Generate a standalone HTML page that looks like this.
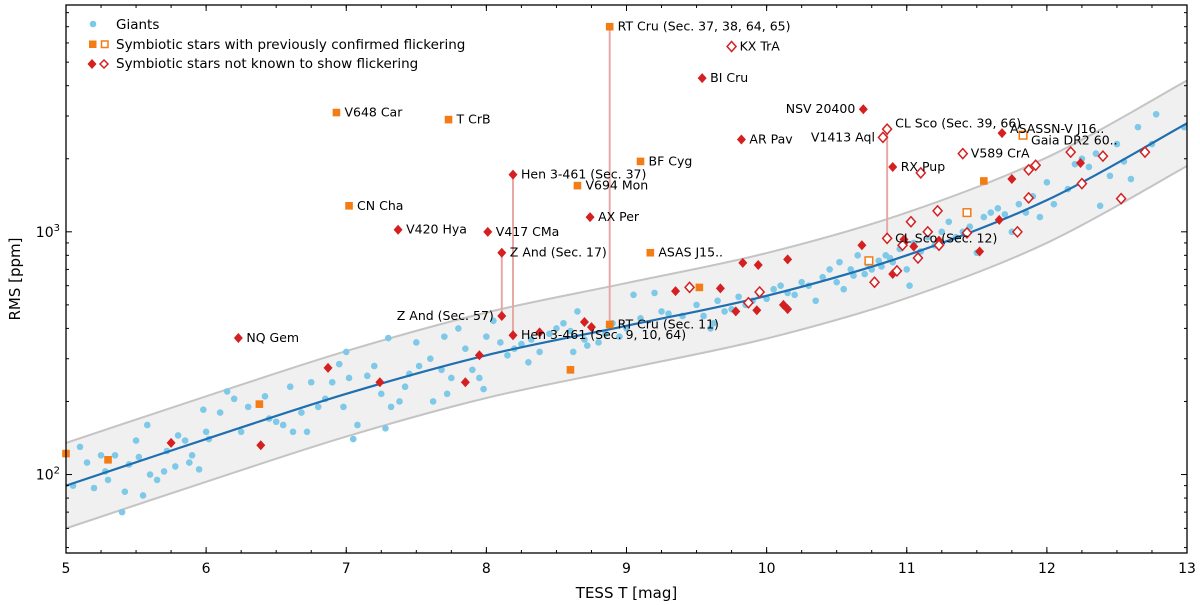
<!DOCTYPE html>
<html><head><meta charset="utf-8"><style>
body{margin:0;background:#fff;}
svg{display:block;font-family:"DejaVu Sans","Liberation Sans",sans-serif;}
</style></head><body>
<svg id="chart" width="1200" height="605" viewBox="0 0 1200 605"></svg>
<script>
const giantT=[5.05,5.1,5.15,5.2,5.25,5.28,5.3,5.35,5.4,5.42,5.45,5.5,5.52,5.55,5.58,5.6,5.65,5.7,5.72,5.78,5.8,5.85,5.88,5.9,5.95,5.98,6.0,6.02,6.1,6.15,6.2,6.25,6.3,6.42,6.45,6.5,6.55,6.6,6.62,6.68,6.72,6.75,6.8,6.85,6.9,6.95,6.98,7.0,7.02,7.05,7.08,7.15,7.2,7.25,7.28,7.3,7.32,7.38,7.42,7.45,7.5,7.52,7.6,7.62,7.68,7.7,7.72,7.75,7.8,7.85,7.9,7.95,7.98,8.0,8.05,8.1,8.15,8.2,8.25,8.3,8.32,8.38,8.45,8.5,8.55,8.6,8.62,8.65,8.7,8.72,8.8,8.85,8.9,8.95,9.0,9.05,9.1,9.2,9.25,9.3,9.4,9.5,9.55,9.6,9.62,9.65,9.7,9.75,9.8,9.85,9.9,9.95,10.0,10.05,10.1,10.15,10.2,10.25,10.3,10.35,10.4,10.45,10.5,10.52,10.55,10.6,10.62,10.65,10.7,10.72,10.75,10.8,10.82,10.85,10.88,10.9,10.95,11.0,11.02,11.05,11.1,11.15,11.2,11.25,11.3,11.35,11.4,11.45,11.5,11.55,11.6,11.65,11.7,11.75,11.8,11.85,11.9,11.95,12.0,12.05,12.15,12.2,12.25,12.3,12.35,12.38,12.45,12.5,12.55,12.6,12.65,12.75,12.78,12.98];
const giantRMS=[90,130,112,88,120,103,95,120,70,85,110,138,118,82,160,100,95,103,125,108,145,138,112,120,105,185,150,140,180,220,205,150,190,210,170,165,160,230,150,180,150,240,190,205,240,285,190,320,250,140,160,255,280,215,155,365,190,200,230,260,350,280,300,200,270,370,215,250,400,330,270,250,225,370,430,350,310,330,345,290,360,320,380,400,420,390,320,470,360,340,350,380,420,370,400,550,440,560,470,460,450,500,450,400,420,520,470,480,540,500,520,550,530,580,600,560,550,620,600,520,650,700,620,750,580,700,660,800,670,740,700,760,720,800,780,750,850,700,600,900,830,950,880,1000,1100,950,1000,1050,820,1150,1200,1250,1180,1000,1300,1200,1400,1150,1600,1300,1500,1900,2000,1850,2100,1280,1700,2300,1950,1650,2700,2300,3050,2700];
const trendT=[5,6,7,8,9,10,11,12,13];
const trendRMS=[90,140,215,310,410,545,800,1350,2800];
const sqFillT=[5.0,5.3,6.38,8.6,9.52,11.55,6.93,7.73,7.02,8.65,9.1,9.17,8.88,8.88];
const sqFillRMS=[122,115,195,270,590,1620,3100,2900,1280,1550,1950,820,7000,415];
const sqOpenT=[10.73,11.43,11.83];
const sqOpenRMS=[760,1200,2500];
const diFillT=[8.19,8.19,8.01,7.37,8.74,8.11,8.11,6.23,9.54,9.82,10.69,10.9,11.68,5.75,6.39,6.87,7.24,7.85,7.95,8.38,8.7,8.75,9.35,9.67,9.83,9.94,10.15,9.78,9.93,10.12,10.15,10.68,10.9,10.98,10.98,11.23,11.52,11.75,11.66,12.24,11.05];
const diFillRMS=[1720,375,1000,1020,1150,820,450,365,4300,2400,3200,1850,2550,135,132,275,240,240,310,385,425,405,570,585,745,730,770,470,475,500,480,880,670,930,900,920,830,1650,1120,1920,870];
const diOpenT=[9.75,10.86,10.86,10.83,11.4,9.45,9.87,9.95,10.77,11.1,11.03,11.08,11.15,11.22,11.23,11.43,11.79,11.87,11.92,11.87,12.17,12.25,12.4,12.53,12.7,10.97,10.93];
const diOpenRMS=[5800,2650,940,2450,2100,590,510,565,620,1750,1100,780,1000,1220,880,990,1000,1800,1880,1380,2130,1580,2050,1370,2130,880,690];
const linkT=[8.11,8.19,8.88,10.86];
const linkLo=[450,375,415,940];
const linkHi=[820,1720,7000,2650];
const labT=[8.88,9.75,9.54,10.69,10.86,10.83,11.68,11.83,11.4,10.9,9.82,6.93,7.73,9.1,8.19,8.65,8.74,7.02,7.37,8.01,8.11,9.17,10.86,8.11,8.88,8.19,6.23];
const labRMS=[7000,5800,4300,3200,2800,2450,2650,2380,2100,1850,2400,3100,2900,1950,1720,1550,1150,1280,1020,1000,820,820,940,450,415,375,365];
const labText=["RT Cru (Sec. 37, 38, 64, 65)","KX TrA","BI Cru","NSV 20400","CL Sco (Sec. 39, 66)","V1413 Aql","ASASSN-V J16..","Gaia DR2 60..","V589 CrA","RX Pup","AR Pav","V648 Car","T CrB","BF Cyg","Hen 3-461 (Sec. 37)","V694 Mon","AX Per","CN Cha","V420 Hya","V417 CMa","Z And (Sec. 17)","ASAS J15..","CL Sco (Sec. 12)","Z And (Sec. 57)","RT Cru (Sec. 11)","Hen 3-461 (Sec. 9, 10, 64)","NQ Gem"];
const labSide=["r","r","r","l","r","l","r","r","r","r","r","r","r","r","r","r","r","r","r","r","r","r","r","l","r","r","r"];
const xTicks=[5,6,7,8,9,10,11,12,13];

const L=66,R=1187,T=5,B=553,YMIN=47.5,YMAX=8600;
const sx=v=>L+(v-5)/8*(R-L);
const sy=v=>B-(Math.log10(v)-Math.log10(YMIN))/(Math.log10(YMAX)-Math.log10(YMIN))*(B-T);
const svg=document.getElementById('chart');
const NS='http://www.w3.org/2000/svg';
function mk(tag,at,parent){const e=document.createElementNS(NS,tag);for(const k in at)e.setAttribute(k,at[k]);(parent||svg).appendChild(e);return e;}
function smooth(pts,start){ // catmull-rom
  let d=(start?'M':'L')+pts[0][0]+','+pts[0][1];
  for(let i=0;i<pts.length-1;i++){const p0=pts[i-1]||pts[i],p1=pts[i],p2=pts[i+1],p3=pts[i+2]||p2;
    d+=`C${p1[0]+(p2[0]-p0[0])/6},${p1[1]+(p2[1]-p0[1])/6} ${p2[0]-(p3[0]-p1[0])/6},${p2[1]-(p3[1]-p1[1])/6} ${p2[0]},${p2[1]}`;}
  return d;}
const trUp=trendRMS.map(v=>v*1.5), trLo=trendRMS.map(v=>v/1.5);
const ptsOf=a=>trendT.map((t,i)=>[sx(t),sy(a[i])]);
let band=mk('path',{d:smooth(ptsOf(trUp),true)+smooth(ptsOf(trLo).reverse(),false)+'Z',fill:'#f0f0f0'});


function line(arr,name,stroke,w){let p=mk('path',{d:smooth(ptsOf(arr),true),fill:'none',stroke:stroke,'stroke-width':w});

}
line(trUp,'band-upper-edge','#c4c4c4',2);
line(trLo,'band-lower-edge','#c4c4c4',2);
linkT.forEach((t,i)=>{let l=mk('line',{x1:sx(t),x2:sx(t),y1:sy(linkLo[i]),y2:sy(linkHi[i]),stroke:'#e8a8a8','stroke-width':2});

});
giantT.forEach((t,i)=>{let c=mk('circle',{cx:sx(t),cy:sy(giantRMS[i]),r:3.3,fill:'#7ec8e8'});

});
line(trendRMS,'trend-line','#1f6fb0',2.2);
function sq(x,y,fill,name){let s=mk('rect',{x:x-3.8,y:y-3.8,width:7.6,height:7.6,fill:fill?'#f47c14':'#fff',stroke:'#f47c14','stroke-width':fill?0:1.5});

}
function di(x,y,fill,name){let s=mk('path',{d:`M${x},${y-5}L${x+4.5},${y}L${x},${y+5}L${x-4.5},${y}Z`,fill:fill?'#d42020':'#fff',stroke:'#d42020','stroke-width':fill?0:1.5});

}
sqFillT.forEach((t,i)=>sq(sx(t),sy(sqFillRMS[i]),true,'symbiotic-flicker-point'));
sqOpenT.forEach((t,i)=>sq(sx(t),sy(sqOpenRMS[i]),false,'symbiotic-flicker-open-point'));
diFillT.forEach((t,i)=>di(sx(t),sy(diFillRMS[i]),true,'symbiotic-nonflicker-point'));
diOpenT.forEach((t,i)=>di(sx(t),sy(diOpenRMS[i]),false,'symbiotic-nonflicker-open-point'));
labT.forEach((t,i)=>{const left=labSide[i]==='l';let tx=mk('text',{x:sx(t)+(left?-8:8),y:sy(labRMS[i])+4,'font-size':12.5,'text-anchor':left?'end':'start',fill:'#000'});tx.textContent=labText[i];

});
let fr=mk('rect',{x:L,y:T,width:R-L,height:B-T,fill:'none',stroke:'#000','stroke-width':1.3});


xTicks.forEach(t=>{const x=sx(t);mk('line',{x1:x,x2:x,y1:B,y2:B-6,stroke:'#000'});mk('line',{x1:x,x2:x,y1:T,y2:T+6,stroke:'#000'});
let tx=mk('text',{x:x,y:B+20,'font-size':14,'text-anchor':'middle'});tx.textContent=String(t);

});
for(let t=5;t<13;t+=0.25){const x=sx(t);mk('line',{x1:x,x2:x,y1:B,y2:B-3,stroke:'#000'});mk('line',{x1:x,x2:x,y1:T,y2:T+3,stroke:'#000'});}
for(let e=1;e<=4;e++)for(let m=1;m<10;m++){const v=m*Math.pow(10,e);if(v<YMIN||v>YMAX)continue;const y=sy(v),len=m===1?6:3;
mk('line',{x1:L,x2:L+len,y1:y,y2:y,stroke:'#000'});mk('line',{x1:R,x2:R-len,y1:y,y2:y,stroke:'#000'});
if(m===1){let tx=mk('text',{x:L-6,y:y+5,'font-size':14,'text-anchor':'end'});tx.innerHTML='10<tspan dy="-6" font-size="10">'+e+'</tspan>';

}}
let xt=mk('text',{x:(L+R)/2,y:B+45,'font-size':15,'text-anchor':'middle'});xt.textContent='TESS T [mag]';


let yt=mk('text',{x:20,y:(T+B)/2,'font-size':15,'text-anchor':'middle',transform:`rotate(-90 20 ${(T+B)/2})`});yt.textContent='RMS [ppm]';


const lg=mk('g',{});


mk('circle',{cx:93,cy:24,r:3.3,fill:'#7ec8e8'},lg);
mk('rect',{x:89,y:40.5,width:7.5,height:7.5,fill:'#f47c14'},lg);
mk('rect',{x:101.5,y:41,width:6.5,height:6.5,fill:'#fff',stroke:'#f47c14','stroke-width':1.5},lg);
mk('path',{d:'M92,59L96.5,64L92,69L87.5,64Z',fill:'#d42020'},lg);
mk('path',{d:'M104,60L108,64L104,68L100,64Z',fill:'#fff',stroke:'#d42020','stroke-width':1.5},lg);
[['Giants',29],['Symbiotic stars with previously confirmed flickering',49],['Symbiotic stars not known to show flickering',68]].forEach(a=>{let tx=mk('text',{x:116,y:a[1],'font-size':13.5},lg);tx.textContent=a[0];

});
</script>
</body></html>
